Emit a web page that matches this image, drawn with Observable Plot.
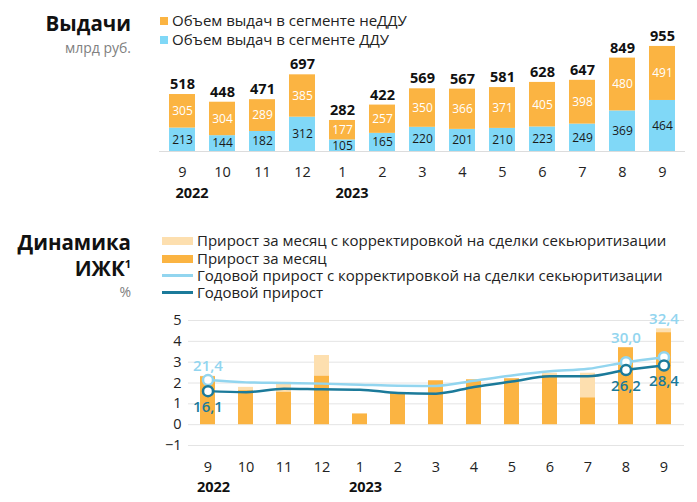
<!DOCTYPE html>
<html>
<head>
<meta charset="utf-8">
<script src="https://cdn.jsdelivr.net/npm/d3@7"></script>
<script src="https://cdn.jsdelivr.net/npm/@observablehq/plot@0.6"></script>
<style>
  body { margin: 0; background: #fff; font-family: "Open Sans", sans-serif; color: #1a1a1a; }
  #wrap { position: relative; width: 697px; height: 502px; overflow: hidden; background: #fff; }
  .abs { position: absolute; white-space: nowrap; line-height: 1; }
  .title { font-weight: 700; font-size: 20.5px; color: #111; text-align: right; width: 131px; left: 0; }
  .unit { font-size: 14px; color: #808080; text-align: right; width: 131px; left: 0; }
  .leg { font-size: 15px; color: #222; display: flex; align-items: center; }
  .sw { display: inline-block; }
  #top, #bottom { position: absolute; left: 0; }
  #top { top: 0; }
  #bottom { top: 300px; }
</style>
</head>
<body>
<div id="wrap">
  <div id="top"></div>
  <div id="bottom"></div>

  <div class="abs title" style="top:13px;">Выдачи</div>
  <div class="abs unit" style="top:41px;">млрд руб.</div>

  <div class="abs leg" style="left:160px; top:13px;"><span class="sw" style="width:8px;height:8px;background:#FBB442;margin-right:4px;"></span>Объем выдач в сегменте неДДУ</div>
  <div class="abs leg" style="left:160px; top:32px;"><span class="sw" style="width:8px;height:8px;background:#80D8F7;margin-right:4px;"></span>Объем выдач в сегменте ДДУ</div>

  <div class="abs title" style="top:232px;">Динамика</div>
  <div class="abs title" style="top:258px;">ИЖК<span style="font-size:11px;position:relative;top:-8px;">1</span></div>
  <div class="abs unit" style="top:285px;">%</div>

  <div class="abs leg" style="left:162px; top:233px;"><span class="sw" style="width:31px;height:8px;background:#FDDFAF;margin-right:4px;"></span>Прирост за месяц с корректировкой на сделки секьюритизации</div>
  <div class="abs leg" style="left:162px; top:251px;"><span class="sw" style="width:31px;height:8px;background:#FBB442;margin-right:4px;"></span>Прирост за месяц</div>
  <div class="abs leg" style="left:162px; top:268px;"><span class="sw" style="width:31px;height:2.5px;background:#92D5EF;margin-right:4px;"></span>Годовой прирост с корректировкой на сделки секьюритизации</div>
  <div class="abs leg" style="left:162px; top:285px;"><span class="sw" style="width:31px;height:2.5px;background:#1B7A9A;margin-right:4px;"></span>Годовой прирост</div>
</div>

<script>
// ---- data ----
const periods = ["2022-09","2022-10","2022-11","2022-12","2023-01","2023-02","2023-03","2023-04","2023-05","2023-06","2023-07","2023-08","2023-09"];
const monthLabels = ["9","10","11","12","1","2","3","4","5","6","7","8","9"];
const yearLabels = [{period: "2022-09", year: "2022"}, {period: "2023-01", year: "2023"}];

// Issuance, bn rub
const dduValues    = [213, 144, 182, 312, 105, 165, 220, 201, 210, 223, 249, 369, 464];
const nonDduValues = [305, 304, 289, 385, 177, 257, 350, 366, 371, 405, 398, 480, 491];
const totalValues  = [518, 448, 471, 697, 282, 422, 569, 567, 581, 628, 647, 849, 955];

// IHC dynamics, %
const monthlyGrowth    = [2.3, 1.63, 1.55, 2.32, 0.51, 1.5, 2.1, 2.15, 2.2, 2.36, 1.28, 3.69, 4.41];
const monthlyGrowthAdj = [2.32, 1.79, 2.03, 3.32, 0.51, 1.5, 2.12, 2.15, 2.2, 2.47, 2.47, 3.69, 4.6];
const annualGrowth     = [16.1, 15.6, 17.3, 17.0, 16.8, 15.2, 14.9, 18.1, 20.7, 23.2, 23.2, 26.2, 28.4];
const annualGrowthAdj  = [21.4, 20.3, 20.0, 19.7, 19.2, 18.7, 18.6, 21.1, 23.6, 25.6, 26.8, 30.0, 32.4];
const annualScale = 10; // annual growth is drawn at 1/10 on the monthly axis
const labeledIdx = [0, 11, 12];
const yTicks = [-1, 0, 1, 2, 3, 4, 5];

// ---- colors ----
const ORANGE = "#FBB442", LIGHT_ORANGE = "#FDDFAF", BLUE_BAR = "#80D8F7";
const LINE_LIGHT = "#92D5EF", LINE_DARK = "#1B7A9A";
const FONT = '"Open Sans", sans-serif';

// ---- top chart ----
const issuance = periods.flatMap((p, i) => [
  {period: p, segment: "ДДУ", value: dduValues[i]},
  {period: p, segment: "неДДУ", value: nonDduValues[i]}
]);
const totals = periods.map((p, i) => ({period: p, total: totalValues[i], top: dduValues[i] + nonDduValues[i]}));

const topChart = Plot.plot({
  width: 697, height: 205,
  marginLeft: 159, marginRight: 12, marginTop: 41, marginBottom: 54,
  style: {fontFamily: FONT, fontSize: "14px", color: "#222", background: "transparent", overflow: "visible"},
  x: {domain: periods, paddingInner: 0.35, paddingOuter: 0.2},
  y: {domain: [0, 1000], axis: null},
  color: {domain: ["ДДУ", "неДДУ"], range: [BLUE_BAR, ORANGE]},
  marks: [
    Plot.barY(issuance, {x: "period", y: "value", fill: "segment"}),
    Plot.ruleY([0], {stroke: "#dcdcdc", strokeWidth: 1}),
    Plot.text(issuance, Plot.stackY({
      x: "period", y: "value", z: "segment", text: "value",
      fill: d => d.segment === "ДДУ" ? "#1a1a1a" : "#ffffff",
      fontSize: 12, fontWeight: 500
    })),
    Plot.text(totals, {x: "period", y: "top", text: "total", dy: -10, fontSize: 14.5, fontWeight: 700, fill: "#111"}),
    Plot.axisX({tickSize: 0, tickPadding: 15, tickFormat: (d) => monthLabels[periods.indexOf(d)], fontSize: 14.5, label: null}),
    Plot.text(yearLabels, {x: "period", frameAnchor: "bottom", lineAnchor: "middle", dy: 42, dx: -7, textAnchor: "start", text: "year", fontWeight: 700, fontSize: 14.5, fill: "#111"})
  ]
});
document.getElementById("top").append(topChart);

// ---- bottom chart ----
const dyn = periods.map((p, i) => ({
  i, period: p,
  month: monthlyGrowth[i], monthAdj: monthlyGrowthAdj[i],
  annual: annualGrowth[i] / annualScale, annualAdj: annualGrowthAdj[i] / annualScale,
  annualLabel: annualGrowth[i].toFixed(1).replace(".", ","),
  annualAdjLabel: annualGrowthAdj[i].toFixed(1).replace(".", ",")
}));
const labeled = dyn.filter(d => labeledIdx.includes(d.i));

const bottomChart = Plot.plot({
  width: 697, height: 202,
  marginLeft: 188, marginRight: 13, marginTop: 20, marginBottom: 57,
  style: {fontFamily: FONT, fontSize: "14px", color: "#222", background: "transparent", overflow: "visible"},
  x: {domain: periods, paddingInner: 0.6, paddingOuter: 0.3},
  y: {domain: [-1, 5]},
  marks: [
    Plot.ruleY(yTicks, {stroke: "#e4e4e4", strokeWidth: 1}),
    Plot.barY(dyn, {x: "period", y: "monthAdj", fill: LIGHT_ORANGE}),
    Plot.barY(dyn, {x: "period", y: "month", fill: ORANGE}),
    Plot.lineY(dyn, {x: "period", y: "annualAdj", stroke: LINE_LIGHT, strokeWidth: 2.5, curve: "monotone-x"}),
    Plot.lineY(dyn, {x: "period", y: "annual", stroke: LINE_DARK, strokeWidth: 2.5, curve: "monotone-x"}),
    Plot.dot(labeled, {x: "period", y: "annualAdj", r: 5, fill: "#fff", stroke: LINE_LIGHT, strokeWidth: 2.5}),
    Plot.dot(labeled, {x: "period", y: "annual", r: 5, fill: "#fff", stroke: LINE_DARK, strokeWidth: 2.5}),
    Plot.text(labeled, {x: "period", y: d => Math.max(d.monthAdj, d.annualAdj), dy: -10, text: "annualAdjLabel", fill: LINE_LIGHT, fontSize: 15, fontWeight: 600}),
    Plot.text(labeled, {x: "period", y: "annual", dy: 16, text: "annualLabel", fill: LINE_DARK, fontSize: 15, fontWeight: 600}),
    Plot.axisY({ticks: yTicks, tickSize: 0, tickPadding: 7, tickFormat: d3.format("d"), fontSize: 14.5, label: null}),
    Plot.axisX({tickSize: 0, tickPadding: 16, tickFormat: (d) => monthLabels[periods.indexOf(d)], fontSize: 14.5, label: null}),
    Plot.text(yearLabels, {x: "period", frameAnchor: "bottom", lineAnchor: "middle", dy: 42, dx: -11, textAnchor: "start", text: "year", fontWeight: 700, fontSize: 14.5, fill: "#111"})
  ]
});
document.getElementById("bottom").append(bottomChart);
</script>
</body>
</html>
